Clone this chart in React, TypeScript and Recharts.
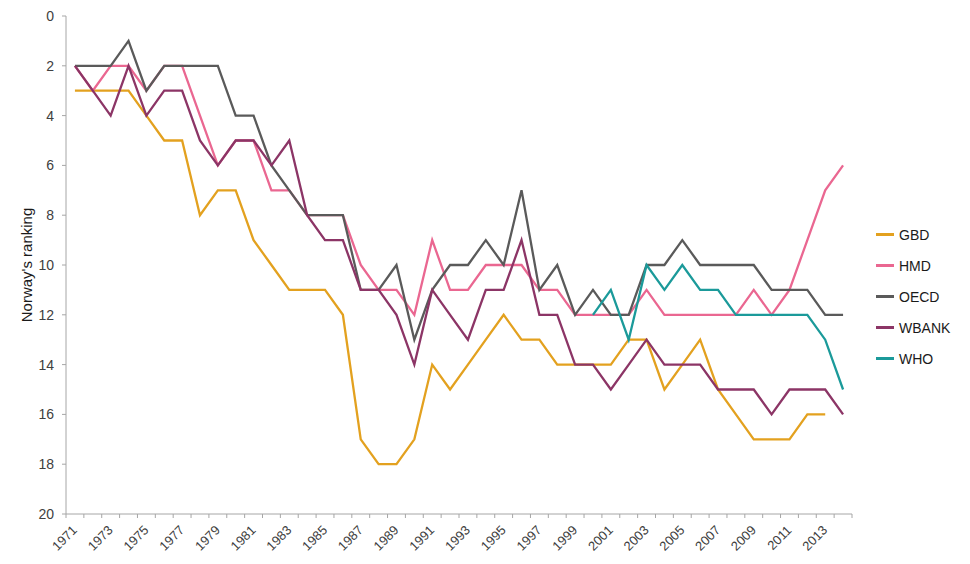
import React from "react";
import { Label, Line, LineChart, XAxis, YAxis } from "recharts";

// Norway's ranking by data source, 1971-2014 (lower is better, axis reversed).

const years = Array.from({ length: 44 }, (_, i) => 1971 + i);

const gbd = [
  3, 3, 3, 3, 4, 5, 5, 8, 7, 7,
  9, 10, 11, 11, 11, 12, 17, 18, 18, 17,
  14, 15, 14, 13, 12, 13, 13, 14, 14, 14,
  14, 13, 13, 15, 14, 13, 15, 16, 17, 17,
  17, 16, 16, null,
];
const hmd = [
  2, 3, 2, 2, 3, 2, 2, 4, 6, 5,
  5, 7, 7, 8, 8, 8, 10, 11, 11, 12,
  9, 11, 11, 10, 10, 10, 11, 11, 12, 12,
  12, 12, 11, 12, 12, 12, 12, 12, 11, 12,
  11, 9, 7, 6,
];
const oecd = [
  2, 2, 2, 1, 3, 2, 2, 2, 2, 4,
  4, 6, 7, 8, 8, 8, 11, 11, 10, 13,
  11, 10, 10, 9, 10, 7, 11, 10, 12, 11,
  12, 12, 10, 10, 9, 10, 10, 10, 10, 11,
  11, 11, 12, 12,
];
const wbank = [
  2, 3, 4, 2, 4, 3, 3, 5, 6, 5,
  5, 6, 5, 8, 9, 9, 11, 11, 12, 14,
  11, 12, 13, 11, 11, 9, 12, 12, 14, 14,
  15, 14, 13, 14, 14, 14, 15, 15, 15, 16,
  15, 15, 15, 16,
];
const who = [
  null, null, null, null, null, null, null, null, null, null,
  null, null, null, null, null, null, null, null, null, null,
  null, null, null, null, null, null, null, null, null, 12,
  11, 13, 10, 11, 10, 11, 11, 12, 12, 12,
  12, 12, 13, 15,
];

const yTicks = [0, 2, 4, 6, 8, 10, 12, 14, 16, 18, 20];

const series = [
  { key: "GBD", values: gbd, color: "#E3A11F" },
  { key: "HMD", values: hmd, color: "#EA6791" },
  { key: "OECD", values: oecd, color: "#5A5A5A" },
  { key: "WBANK", values: wbank, color: "#8C3566" },
  { key: "WHO", values: who, color: "#1B9A9A" },
];

const data = years.map((y, i) => {
  const row: Record<string, number | null> = { year: y };
  for (const s of series) row[s.key] = s.values[i];
  return row;
});

const W = 970;
const H = 564;
const LEFT = 66;
const RIGHT = 852;
const TOP = 16;
const BOTTOM = 514;
const BAND = (RIGHT - LEFT) / years.length;
const FONT = "'Liberation Sans', Arial, sans-serif";

function YearTick(props: any) {
  const { x, y, payload, index } = props;
  const edge = x - BAND / 2;
  const last = index === years.length - 1;
  return (
    <g>
      <line x1={edge} y1={y - 8} x2={edge} y2={y - 4} stroke="#a6a6a6" />
      {last ? <line x1={x + BAND / 2} y1={y - 8} x2={x + BAND / 2} y2={y - 4} stroke="#a6a6a6" /> : null}
      {index % 2 === 0 ? (
        <text
          x={x + 3}
          y={y + 9}
          textAnchor="end"
          transform={`rotate(-45 ${x + 3} ${y + 9})`}
          fontSize={13}
          fontFamily={FONT}
          fill="#404040"
        >
          {payload.value}
        </text>
      ) : null}
    </g>
  );
}

function LegendBox() {
  return (
    <div
      style={{
        position: "absolute",
        left: 876,
        top: 219,
        fontFamily: FONT,
        fontSize: 14,
        color: "#1a1a1a",
      }}
    >
      {series.map((s) => (
        <div key={s.key} style={{ display: "flex", alignItems: "center", height: 31 }}>
          <span style={{ display: "inline-block", width: 18, height: 2.5, background: s.color, marginRight: 5 }} />
          {s.key}
        </div>
      ))}
    </div>
  );
}

export default function App() {
  return (
    <div style={{ position: "absolute", left: 0, top: 0, width: W, height: H, background: "#fff" }}>
      <LineChart
        width={W}
        height={H}
        data={data}
        margin={{ top: TOP, right: W - RIGHT, bottom: 0, left: 0 }}
      >
        <XAxis
          dataKey="year"
          type="category"
          interval={0}
          height={H - BOTTOM}
          padding={{ left: BAND / 2, right: BAND / 2 }}
          axisLine={{ stroke: "#a6a6a6" }}
          tickLine={false}
          tick={<YearTick />}
        />
        <YAxis
          reversed
          domain={[0, 20]}
          ticks={yTicks}
          interval={0}
          width={LEFT}
          axisLine={{ stroke: "#a6a6a6" }}
          tickLine={{ stroke: "#a6a6a6" }}
          tickSize={4}
          tickMargin={8}
          tick={{ fontSize: 14, fontFamily: FONT, fill: "#404040" }}
        >
          <Label
            content={() => (
              <text
                x={28}
                y={265}
                textAnchor="middle"
                dominantBaseline="middle"
                transform="rotate(-90 28 265)"
                fontSize={15}
                fontFamily={FONT}
                fill="#1a1a1a"
              >
                Norway's ranking
              </text>
            )}
          />
        </YAxis>
        {series.map((s) => (
          <Line
            key={s.key}
            dataKey={s.key}
            type="linear"
            stroke={s.color}
            strokeWidth={2.3}
            dot={false}
            activeDot={false}
            connectNulls={false}
            isAnimationActive={false}
          />
        ))}
      </LineChart>
      <LegendBox />
    </div>
  );
}
